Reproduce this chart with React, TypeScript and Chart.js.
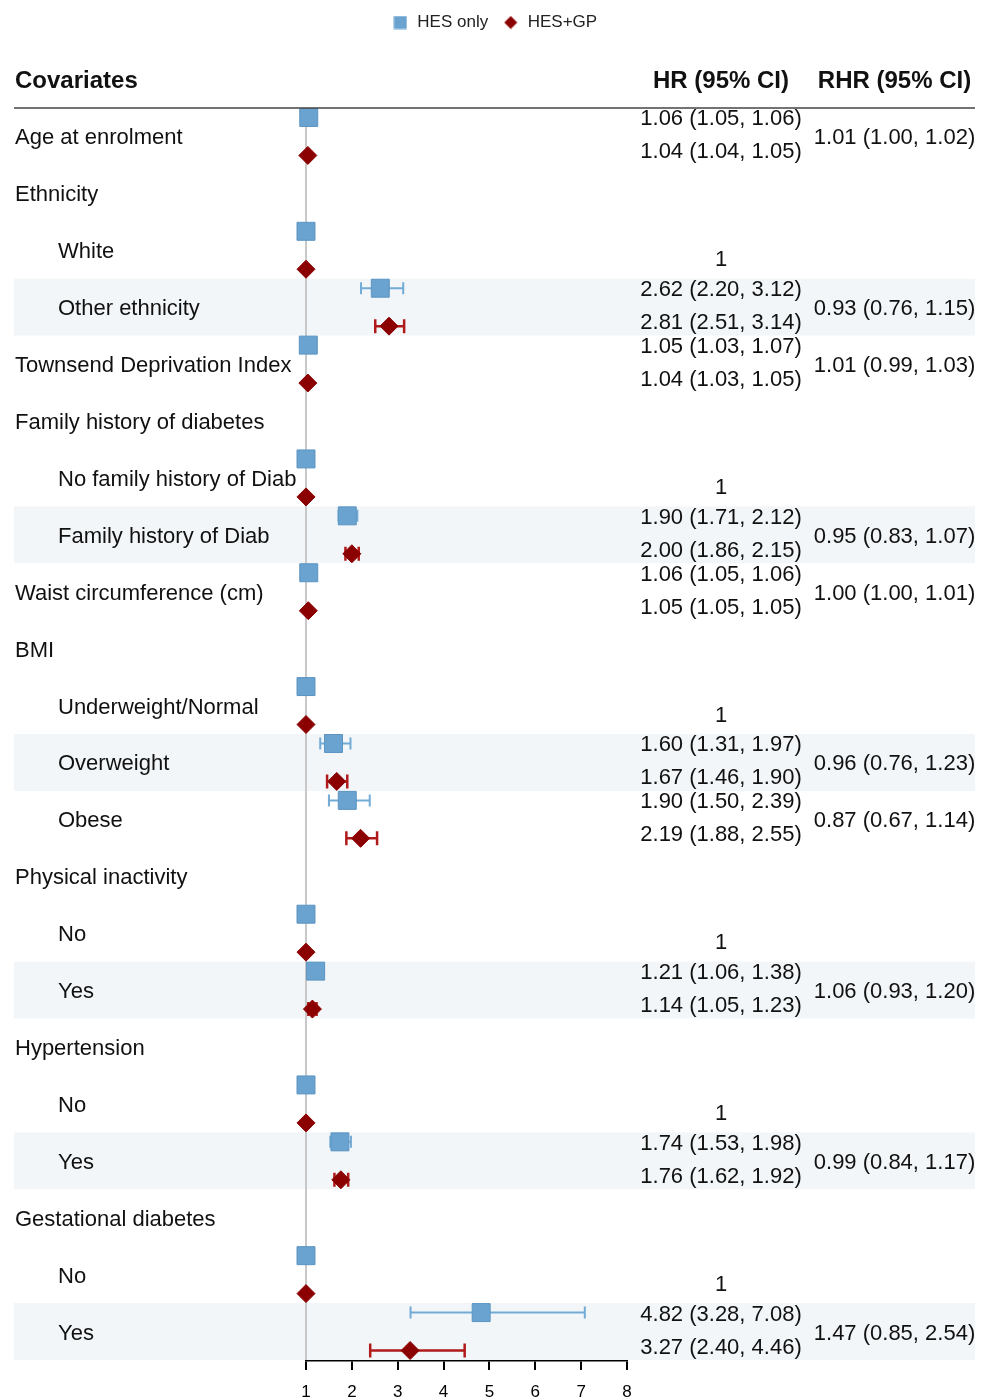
import React, { useEffect, useRef } from "react";
import { Chart, registerables } from "chart.js";

Chart.register(...registerables);

const FONT = "'Liberation Sans', Arial, Helvetica, sans-serif";

// Row labels, top to bottom
const covariates = [
  "Age at enrolment",
  "Ethnicity",
  "White",
  "Other ethnicity",
  "Townsend Deprivation Index",
  "Family history of diabetes",
  "No family history of Diab",
  "Family history of Diab",
  "Waist circumference (cm)",
  "BMI",
  "Underweight/Normal",
  "Overweight",
  "Obese",
  "Physical inactivity",
  "No",
  "Yes",
  "Hypertension",
  "No",
  "Yes",
  "Gestational diabetes",
  "No",
  "Yes",
];
const subLevel = [
  false, false, true, true, false, false, true, true, false, false, true,
  true, true, false, true, true, false, true, true, false, true, true,
];

// Hazard ratios, HES only
const hesOnlyHR = [1.06, null, 1, 2.62, 1.05, null, 1, 1.9, 1.06, null, 1, 1.6, 1.9, null, 1, 1.21, null, 1, 1.74, null, 1, 4.82];
const hesOnlyLo = [1.05, null, null, 2.2, 1.03, null, null, 1.71, 1.05, null, null, 1.31, 1.5, null, null, 1.06, null, null, 1.53, null, null, 3.28];
const hesOnlyHi = [1.06, null, null, 3.12, 1.07, null, null, 2.12, 1.06, null, null, 1.97, 2.39, null, null, 1.38, null, null, 1.98, null, null, 7.08];

// Hazard ratios, HES+GP
const hesGpHR = [1.04, null, 1, 2.81, 1.04, null, 1, 2.0, 1.05, null, 1, 1.67, 2.19, null, 1, 1.14, null, 1, 1.76, null, 1, 3.27];
const hesGpLo = [1.04, null, null, 2.51, 1.03, null, null, 1.86, 1.05, null, null, 1.46, 1.88, null, null, 1.05, null, null, 1.62, null, null, 2.4];
const hesGpHi = [1.05, null, null, 3.14, 1.05, null, null, 2.15, 1.05, null, null, 1.9, 2.55, null, null, 1.23, null, null, 1.92, null, null, 4.46];

// Ratio of hazard ratios
const rhr = [1.01, null, null, 0.93, 1.01, null, null, 0.95, 1.0, null, null, 0.96, 0.87, null, null, 1.06, null, null, 0.99, null, null, 1.47];
const rhrLo = [1.0, null, null, 0.76, 0.99, null, null, 0.83, 1.0, null, null, 0.76, 0.67, null, null, 0.93, null, null, 0.84, null, null, 0.85];
const rhrHi = [1.02, null, null, 1.15, 1.03, null, null, 1.07, 1.01, null, null, 1.23, 1.14, null, null, 1.2, null, null, 1.17, null, null, 2.54];

const shadedRows = [3, 7, 11, 15, 18, 21];
const xTicks = [1, 2, 3, 4, 5, 6, 7, 8];

const ROW_OFFSET = 1 / 3;

const HES_FILL = "#6aa3cf";
const HES_EDGE = "#5b94c2";
const GP_FILL = "#8b0000";

const fmt = (v: number) => v.toFixed(2);
const ciText = (v: number, lo: number, hi: number) => `${fmt(v)} (${fmt(lo)}, ${fmt(hi)})`;

type Pt = { x: number; y: number; lo: number | null; hi: number | null };

const buildPoints = (hr: (number | null)[], lo: (number | null)[], hi: (number | null)[], offset: number): Pt[] =>
  hr
    .map((v, i) => (v == null ? null : { x: v, y: i + offset, lo: lo[i], hi: hi[i] }))
    .filter((p): p is Pt => p !== null);

// Small legend markers
const makeMarker = (kind: "square" | "diamond") => {
  const c = document.createElement("canvas");
  c.width = 14;
  c.height = 14;
  const g = c.getContext("2d")!;
  if (kind === "square") {
    g.fillStyle = HES_FILL;
    g.fillRect(0.5, 0.5, 13, 13);
  } else {
    g.fillStyle = GP_FILL;
    g.beginPath();
    g.moveTo(7, 0.5);
    g.lineTo(13.5, 7);
    g.lineTo(7, 13.5);
    g.lineTo(0.5, 7);
    g.closePath();
    g.fill();
  }
  return c;
};

// Invisible side axes reserve room for the table columns
const spacerAxis = (position: "left" | "right", width: number, extra: any = {}) => ({
  type: "linear",
  position,
  display: true,
  grid: { display: false, drawTicks: false },
  border: { display: false },
  ticks: { display: false },
  afterFit: (scale: any) => {
    scale.width = width;
  },
  ...extra,
});

const forestPlugin = {
  id: "forestTable",
  beforeDatasetsDraw(chart: any) {
    const { ctx, scales } = chart;
    const y = scales.y;
    ctx.save();
    ctx.fillStyle = "#f2f6f8";
    for (const r of shadedRows) {
      const top = y.getPixelForValue(r - 0.5);
      const bot = y.getPixelForValue(r + 0.5);
      ctx.fillRect(14, top, 975 - 14, bot - top);
    }
    ctx.restore();
  },
  beforeDatasetDraw(chart: any, args: any) {
    const ds = chart.data.datasets[args.index];
    if (!ds.ciColor) return;
    const { ctx, scales } = chart;
    const { x, y } = scales;
    ctx.save();
    ctx.strokeStyle = ds.ciColor;
    ctx.lineWidth = ds.ciWidth;
    for (const p of ds.data as Pt[]) {
      if (p.lo == null || p.hi == null) continue;
      const x0 = x.getPixelForValue(p.lo);
      const x1 = x.getPixelForValue(p.hi);
      const py = y.getPixelForValue(p.y);
      const c = ds.capHalf;
      ctx.beginPath();
      ctx.moveTo(x0, py);
      ctx.lineTo(x1, py);
      ctx.moveTo(x0, py - c);
      ctx.lineTo(x0, py + c);
      ctx.moveTo(x1, py - c);
      ctx.lineTo(x1, py + c);
      ctx.stroke();
    }
    ctx.restore();
  },
  afterDraw(chart: any) {
    const { ctx, scales } = chart;
    const y = scales.y;
    const hrX = 721;
    const rhrX = 894.5;
    const headY = y.getPixelForValue(-0.5);
    ctx.save();

    // header rule
    ctx.strokeStyle = "#444";
    ctx.lineWidth = 1.5;
    ctx.beginPath();
    ctx.moveTo(14, headY);
    ctx.lineTo(975, headY);
    ctx.stroke();

    ctx.fillStyle = "#111";
    ctx.textBaseline = "alphabetic";
    ctx.font = `bold 24px ${FONT}`;
    ctx.textAlign = "left";
    ctx.fillText("Covariates", 15, headY - 20);
    ctx.textAlign = "center";
    ctx.fillText("HR (95% CI)", hrX, headY - 20);
    ctx.fillText("RHR (95% CI)", rhrX, headY - 20);

    ctx.font = `22px ${FONT}`;
    covariates.forEach((label, i) => {
      const cy = y.getPixelForValue(i);
      ctx.textAlign = "left";
      ctx.fillText(label, subLevel[i] ? 58 : 15, cy + 8);

      ctx.textAlign = "center";
      const a = hesOnlyHR[i];
      const b = hesGpHR[i];
      if (a != null && b != null) {
        const aLo = hesOnlyLo[i];
        const aHi = hesOnlyHi[i];
        const bLo = hesGpLo[i];
        const bHi = hesGpHi[i];
        if (aLo == null || aHi == null || bLo == null || bHi == null) {
          ctx.fillText(String(a), hrX, cy + 16);
        } else {
          ctx.fillText(ciText(a, aLo, aHi), hrX, cy - 11);
          ctx.fillText(ciText(b, bLo, bHi), hrX, cy + 22);
        }
      }
      const r = rhr[i];
      const rl = rhrLo[i];
      const rh = rhrHi[i];
      if (r != null && rl != null && rh != null) {
        ctx.fillText(ciText(r, rl, rh), rhrX, cy + 8);
      }
    });
    ctx.restore();
  },
};

export default function App() {
  const canvasRef = useRef<HTMLCanvasElement | null>(null);

  useEffect(() => {
    if (!canvasRef.current) return;
    Chart.defaults.font.family = FONT;
    const markers = [makeMarker("square"), makeMarker("diamond")];
    const defaultLabels = Chart.defaults.plugins.legend.labels.generateLabels;
    const chart = new Chart(canvasRef.current, {
      type: "scatter",
      data: {
        datasets: [
          {
            label: "HES only",
            data: buildPoints(hesOnlyHR, hesOnlyLo, hesOnlyHi, -ROW_OFFSET),
            pointStyle: "rect",
            pointRadius: 12.7,
            pointHoverRadius: 12.7,
            backgroundColor: HES_FILL,
            borderColor: HES_EDGE,
            borderWidth: 1,
            order: 0,
            clip: false,
            ciColor: "#72acd6",
            ciWidth: 2,
            capHalf: 6,
          } as any,
          {
            label: "HES+GP",
            data: buildPoints(hesGpHR, hesGpLo, hesGpHi, ROW_OFFSET),
            pointStyle: "rectRot",
            pointRadius: 9,
            pointHoverRadius: 9,
            backgroundColor: GP_FILL,
            borderColor: GP_FILL,
            borderWidth: 1,
            order: 0,
            clip: false,
            ciColor: "#b01a1a",
            ciWidth: 2.5,
            capHalf: 7,
          } as any,
          {
            label: "null line",
            data: [
              { x: 1, y: -0.5 },
              { x: 1, y: 21.5 },
            ],
            showLine: true,
            borderColor: "#c8c8c8",
            borderWidth: 2,
            pointRadius: 0,
            order: 1,
            clip: false,
          } as any,
        ],
      },
      options: {
        responsive: false,
        animation: false,
        devicePixelRatio: 1,
        layout: { padding: 0 },
        plugins: {
          tooltip: { enabled: false },
          legend: {
            display: true,
            position: "top",
            labels: {
              usePointStyle: true,
              boxWidth: 17,
              boxHeight: 14,
              padding: 14,
              color: "#222",
              font: { size: 17, family: FONT },
              generateLabels: (chart: any) =>
                defaultLabels(chart)
                  .filter((item: any) => item.text !== "null line")
                  .map((item: any) => ({ ...item, pointStyle: markers[item.datasetIndex] })),
            },
          },
        },
        scales: {
          x: {
            type: "linear",
            position: "bottom",
            min: 1,
            max: 8,
            afterBuildTicks: (scale: any) => {
              scale.ticks = xTicks.map((v) => ({ value: v }));
            },
            afterFit: (scale: any) => {
              scale.height = 39;
            },
            ticks: {
              color: "#000",
              font: { size: 17, family: FONT },
              padding: 12,
              autoSkip: false,
              maxRotation: 0,
            },
            grid: {
              display: true,
              drawOnChartArea: false,
              drawTicks: true,
              tickLength: 10,
              color: "#000",
              lineWidth: 2,
            },
            border: { display: true, color: "#000", width: 2.5 },
          },
          y: spacerAxis("left", 306, { reverse: true, min: -1.6773, max: 21.5 }) as any,
          yRight: spacerAxis("right", 362, { min: 0, max: 1 }) as any,
        },
      },
      plugins: [forestPlugin],
    });
    return () => chart.destroy();
  }, []);

  return (
    <div style={{ position: "absolute", left: 0, top: 0, width: 989, height: 1399 }}>
      <canvas ref={canvasRef} width={989} height={1399} style={{ display: "block" }} />
    </div>
  );
}
